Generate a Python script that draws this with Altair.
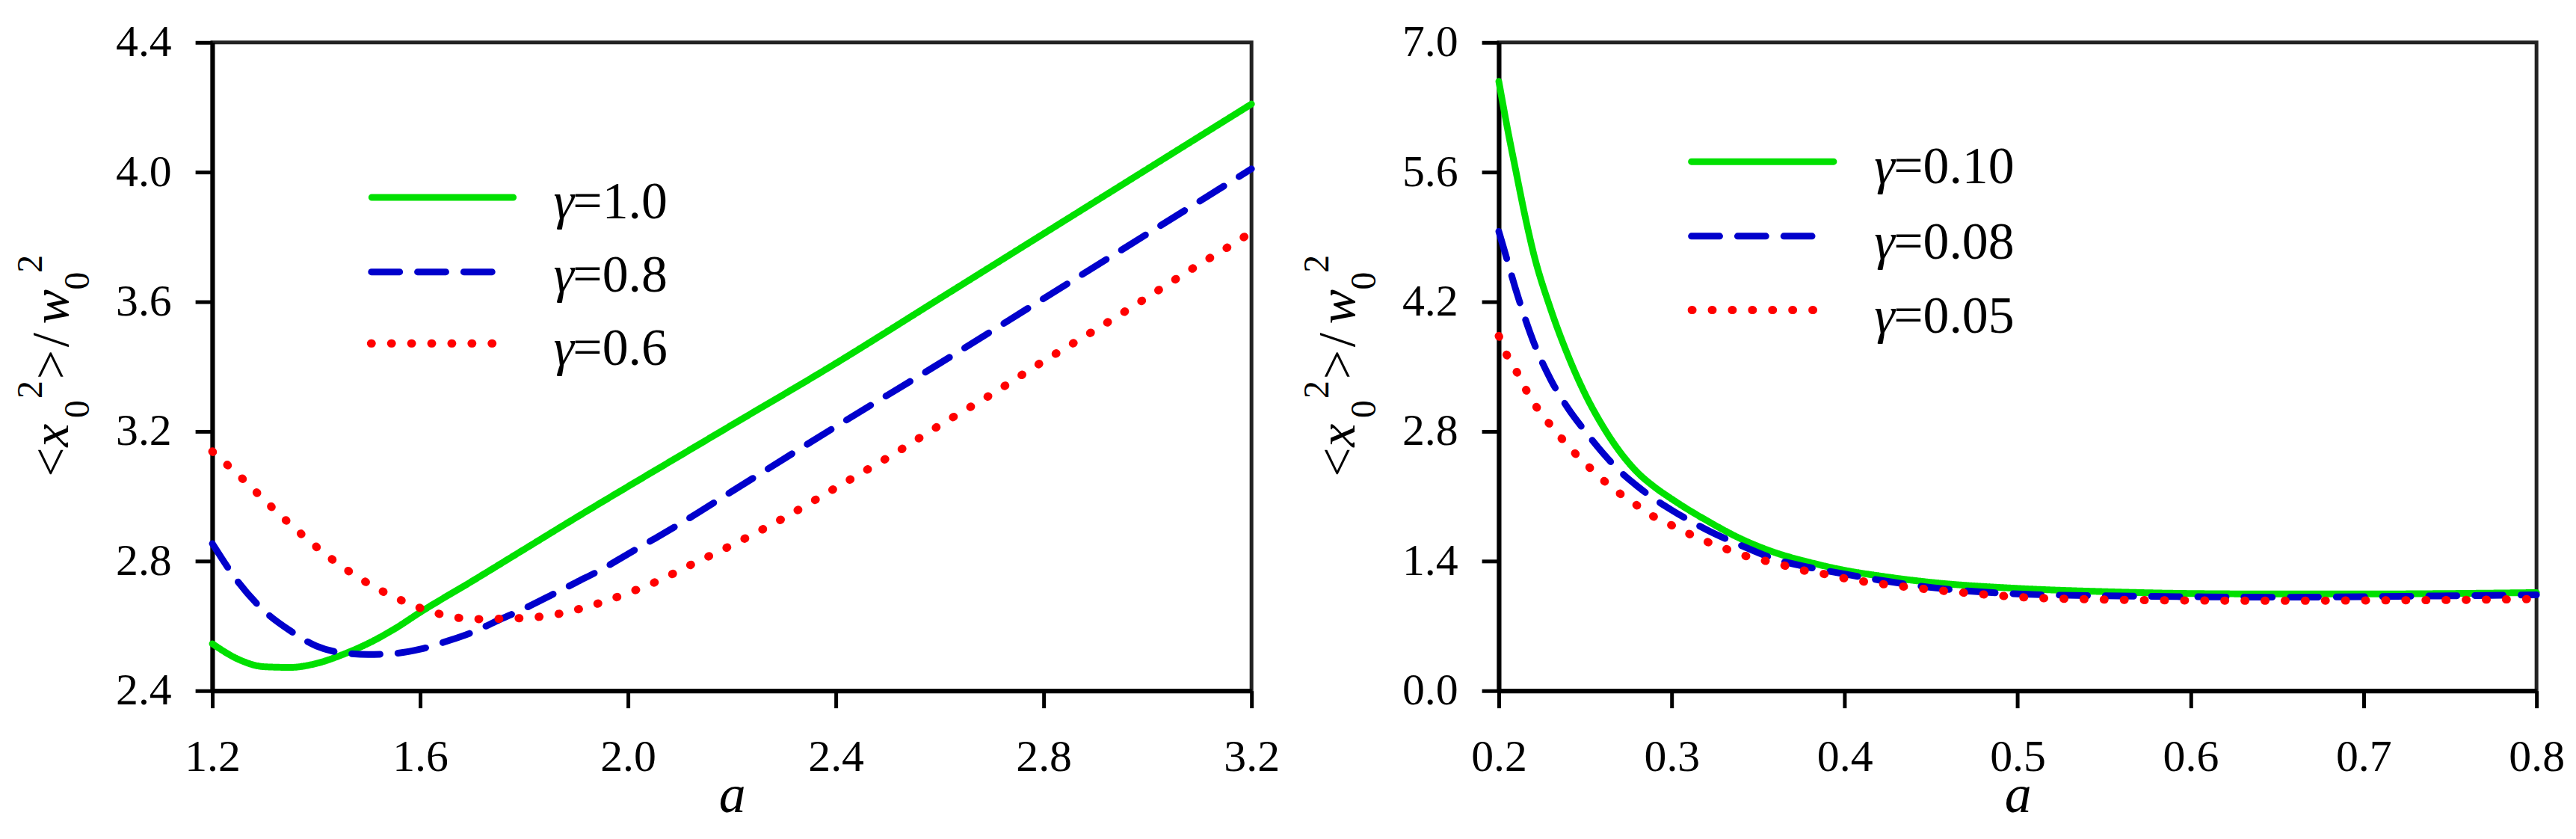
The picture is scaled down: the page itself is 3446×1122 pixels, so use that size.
import altair as alt
import pandas as pd

FONT = "Liberation Serif"

# ---------------- data ----------------
LEFT_LABELS = ["1.0", "0.8", "0.6"]
RIGHT_LABELS = ["0.10", "0.08", "0.05"]

LEFT_A_G = [1.20, 1.25, 1.30, 1.35, 1.40, 1.45, 1.50, 1.55, 1.60, 1.70, 1.80, 1.90,
            2.00, 2.10, 2.20, 2.40, 2.60, 2.80, 3.00, 3.20]
LEFT_V_G = [2.545, 2.497, 2.474, 2.472, 2.484, 2.511, 2.546, 2.590, 2.642, 2.738, 2.836, 2.934,
            3.030, 3.125, 3.220, 3.410, 3.610, 3.810, 4.010, 4.210]

LEFT_A_B = [1.20, 1.25, 1.30, 1.35, 1.40, 1.45, 1.50, 1.55, 1.60, 1.65, 1.70, 1.75, 1.80,
            1.85, 1.90, 1.95, 2.00, 2.05, 2.10, 2.20, 2.40, 2.60, 2.80, 3.00, 3.20]
LEFT_V_B = [2.854, 2.735, 2.646, 2.585, 2.538, 2.517, 2.512, 2.515, 2.528, 2.552, 2.580, 2.617, 2.653,
            2.693, 2.734, 2.775, 2.822, 2.868, 2.915, 3.015, 3.215, 3.410, 3.610, 3.810, 4.010]

LEFT_A_R = [1.200, 1.258, 1.314, 1.373, 1.435, 1.498, 1.565, 1.632, 1.705, 1.780, 1.856, 1.930,
            1.999, 2.069, 2.100, 2.202, 2.301, 2.404, 2.507, 2.606, 2.700, 2.797, 2.890, 2.989,
            3.086, 3.182, 3.200]
LEFT_V_R = [3.138, 3.054, 2.967, 2.881, 2.800, 2.733, 2.678, 2.639, 2.621, 2.623, 2.634, 2.663,
            2.701, 2.747, 2.772, 2.851, 2.934, 3.030, 3.126, 3.225, 3.315, 3.414, 3.504, 3.603,
            3.702, 3.796, 3.815]

RIGHT_A_GB = [0.200, 0.205, 0.210, 0.215, 0.220, 0.230, 0.240, 0.250, 0.260, 0.270, 0.280, 0.290,
              0.300, 0.310, 0.320, 0.340, 0.360, 0.380, 0.400, 0.420, 0.450, 0.500, 0.550, 0.600,
              0.650, 0.700, 0.750, 0.800]
RIGHT_V_G = [6.58, 6.07, 5.60, 5.14, 4.73, 4.12, 3.62, 3.20, 2.86, 2.58, 2.36, 2.20,
             2.07, 1.95, 1.84, 1.64, 1.49, 1.385, 1.30, 1.24, 1.17, 1.105, 1.07, 1.05,
             1.045, 1.045, 1.05, 1.06]
RIGHT_V_B = [4.96, 4.64, 4.32, 4.03, 3.77, 3.36, 3.05, 2.80, 2.57, 2.37, 2.21, 2.07,
             1.95, 1.84, 1.74, 1.57, 1.42, 1.33, 1.26, 1.195, 1.115, 1.045, 1.025, 1.015,
             1.01, 1.015, 1.025, 1.035]

RIGHT_A_R = [0.200, 0.205, 0.212, 0.218, 0.226, 0.234, 0.242, 0.252, 0.260, 0.269, 0.278, 0.288,
             0.299, 0.309, 0.319, 0.330, 0.340, 0.351, 0.362, 0.373, 0.385, 0.395, 0.406, 0.440,
             0.474, 0.508, 0.550, 0.600, 0.650, 0.700, 0.750, 0.800]
RIGHT_V_R = [3.83, 3.61, 3.39, 3.17, 2.96, 2.775, 2.604, 2.419, 2.28, 2.143, 2.026, 1.897,
             1.795, 1.703, 1.619, 1.541, 1.471, 1.416, 1.369, 1.31, 1.273, 1.231, 1.194, 1.112,
             1.05, 1.004, 0.985, 0.975, 0.972, 0.975, 0.98, 0.99]

LEFT_XTICKS = [1.2, 1.6, 2.0, 2.4, 2.8, 3.2]
LEFT_YTICKS = [2.4, 2.8, 3.2, 3.6, 4.0, 4.4]
RIGHT_XTICKS = [0.2, 0.3, 0.4, 0.5, 0.6, 0.7, 0.8]
RIGHT_YTICKS = [0.0, 1.4, 2.8, 4.2, 5.6, 7.0]

# ---------------- styles ----------------
COLORS = ["#00E000", "#0000CC", "#FF0000"]
DASHES = [[1, 0], [38, 24], [1, 26]]
WIDTHS = [9, 9, 11]

ONE = pd.DataFrame({"k": [0]})

# y-axis title pieces: text, italic, size, x offset, y offset (relative to plot area)
TITLE_PIECES = [
    ("<", False, 70, -194, 583),
    ("x", True, 70, -194, 543),
    ("0", False, 48, -166, 504),
    ("2", False, 48, -229, 478),
    (">", False, 70, -194, 452),
    ("/", False, 70, -194, 409),
    ("w", True, 70, -194, 378),
    ("0", False, 48, -166, 332),
    ("2", False, 48, -229, 309),
]


def text_piece(txt, italic, size, x, y):
    return alt.Chart(ONE).mark_text(
        text=txt, angle=270, align="left", baseline="alphabetic",
        font=FONT, fontSize=size, fontStyle="italic" if italic else "normal",
        color="black",
    ).encode(x=alt.value(x), y=alt.value(y))


def legend_layers(labels, rules, text_x, text_ys):
    layers = []
    for i, lab in enumerate(labels):
        x1, x2, y = rules[i]
        layers.append(
            alt.Chart(ONE).mark_rule(
                color=COLORS[i], strokeDash=DASHES[i], strokeWidth=WIDTHS[i],
                strokeCap="round",
            ).encode(x=alt.value(x1), x2=alt.value(x2), y=alt.value(y))
        )
        layers.append(
            alt.Chart(ONE).mark_text(
                text="\u03b3", align="left", baseline="alphabetic", font=FONT,
                fontSize=70, fontStyle="italic", color="black",
            ).encode(x=alt.value(text_x), y=alt.value(text_ys[i]))
        )
        layers.append(
            alt.Chart(ONE).mark_text(
                text="=" + lab, align="left", baseline="alphabetic", font=FONT,
                fontSize=70, color="black",
            ).encode(x=alt.value(text_x + 26), y=alt.value(text_ys[i]))
        )
    return layers


def panel(series, xdom, xticks, ydom, yticks, width, legend):
    xenc = alt.X("a:Q", scale=alt.Scale(domain=xdom, nice=False, zero=False),
                 axis=alt.Axis(values=xticks, format=".1f", title="a",
                               titleFontStyle="italic", titleFontSize=72,
                               titleY=162, titleBaseline="alphabetic",
                               labelFlush=False, labelOverlap=False))
    yenc = alt.Y("v:Q", scale=alt.Scale(domain=ydom, nice=False, zero=False),
                 axis=alt.Axis(values=yticks, format=".1f", title=None,
                               labelOverlap=False, labelFlush=False))
    layers = []
    for i, (a, v) in enumerate(series):
        df = pd.DataFrame({"a": a, "v": v})
        layers.append(
            alt.Chart(df).mark_line(
                color=COLORS[i], strokeDash=DASHES[i], strokeWidth=WIDTHS[i],
                strokeCap="round", strokeJoin="round", interpolate="monotone",
            ).encode(x=xenc, y=yenc)
        )
    layers += legend
    layers += [text_piece(*p) for p in TITLE_PIECES]
    return alt.layer(*layers).properties(width=width, height=870)


left = panel(
    [(LEFT_A_G, LEFT_V_G), (LEFT_A_B, LEFT_V_B), (LEFT_A_R, LEFT_V_R)],
    [1.2, 3.2], LEFT_XTICKS, [2.4, 4.4], LEFT_YTICKS, 1395,
    legend_layers(LEFT_LABELS,
                  [(214, 404, 208), (213.5, 381.5, 308), (213, 378, 404)],
                  458, [236, 334, 433]),
)

right = panel(
    [(RIGHT_A_GB, RIGHT_V_G), (RIGHT_A_GB, RIGHT_V_B), (RIGHT_A_R, RIGHT_V_R)],
    [0.2, 0.8], RIGHT_XTICKS, [0.0, 7.0], RIGHT_YTICKS, 1393,
    legend_layers(RIGHT_LABELS,
                  [(258.5, 449.5, 160), (258.5, 424.5, 260), (259, 424, 359)],
                  504, [189, 290, 390]),
)

chart = (
    alt.hconcat(left, right, spacing=332, bounds="flush")
    .resolve_scale(x="independent", y="independent")
    .properties(padding={"left": 7, "top": 14, "right": 5, "bottom": 5},
                background="white")
    .configure_view(stroke="#222222", strokeWidth=5)
    .configure_axis(
        domainColor="black", domainWidth=6, tickColor="black", tickWidth=5,
        tickSize=23, labelFont=FONT, labelFontSize=60, labelColor="black",
        grid=False, titleFont=FONT, titleColor="black", titleFontWeight="normal",
    )
    .configure_axisX(labelPadding=37)
    .configure_axisY(labelPadding=32)
)

chart.save("out.html", embed_options={"renderer": "svg", "actions": False})
